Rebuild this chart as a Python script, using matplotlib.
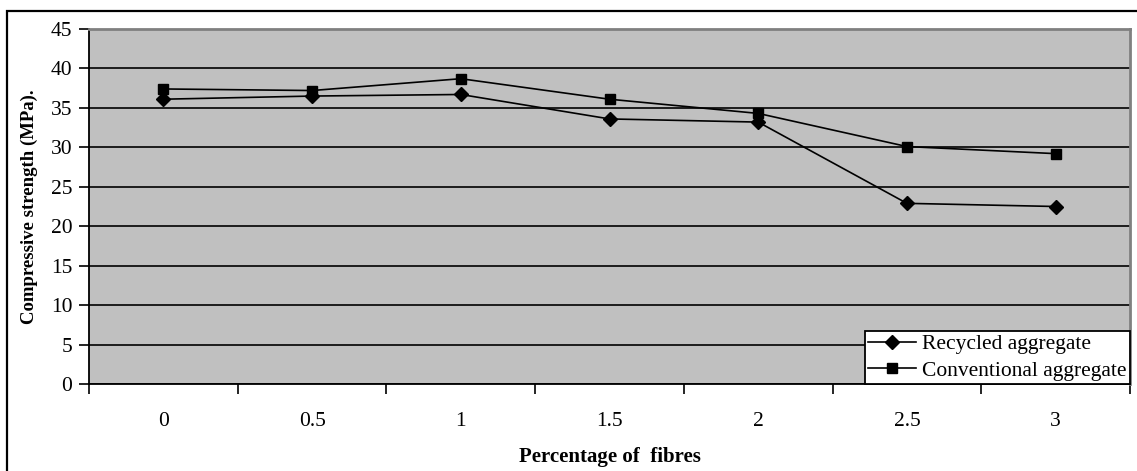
import matplotlib
matplotlib.use("Agg")
from matplotlib import pyplot as plt
from matplotlib.patches import Rectangle

fibres = ["0", "0.5", "1", "1.5", "2", "2.5", "3"]
recycled = [36.1, 36.5, 36.7, 33.6, 33.2, 22.9, 22.5]
conventional = [37.4, 37.2, 38.7, 36.1, 34.3, 30.1, 29.2]

plt.rcParams['font.family'] = ['Liberation Serif', 'DejaVu Serif']

W, H = 1137, 471
fig = plt.figure(figsize=(W / 100, H / 100), dpi=100)

# outer chart frame
fig.patches.append(Rectangle((7 / W, -0.05), 1.1, 1 - 11 / H + 0.05,
                             transform=fig.transFigure, fill=False,
                             edgecolor='black', linewidth=1.6, clip_on=False))

left, right, top, bottom = 89, 1130, 29, 384
ax = fig.add_axes([left / W, 1 - bottom / H, (right - left) / W, (bottom - top) / H])
ax.set_facecolor('#c0c0c0')

x = list(range(len(fibres)))
ax.plot(x, recycled, color='black', linewidth=1.2, marker='D', markersize=7,
        label='Recycled aggregate')
ax.plot(x, conventional, color='black', linewidth=1.2, marker='s', markersize=7.5,
        label='Conventional aggregate')

ax.set_xlim(-0.5, len(fibres) - 0.5)
ax.set_ylim(0, 45)
ax.set_yticks(range(0, 46, 5))
ax.yaxis.grid(True, color='black', linewidth=1.2)
ax.set_axisbelow(True)

ax.set_xticks([i - 0.5 for i in range(len(fibres) + 1)])
ax.set_xticklabels([])
ax.set_xticks(x, minor=True)
ax.set_xticklabels(fibres, minor=True)
ax.tick_params(axis='x', which='major', length=7, width=1.2, direction='out')
ax.tick_params(axis='x', which='minor', length=0, pad=20, labelsize=15.5)
ax.tick_params(axis='y', length=7, width=1.2, pad=5, labelsize=15.5)

ax.spines['left'].set_linewidth(1.3)
ax.spines['bottom'].set_linewidth(1.3)
ax.spines['top'].set_color('#808080')
ax.spines['right'].set_color('#808080')
ax.spines['top'].set_linewidth(2)
ax.spines['right'].set_linewidth(2)

ax.set_xlabel('Percentage of  fibres', fontsize=15, fontweight='bold', labelpad=12)
ax.set_ylabel('Compressive strength (MPa).', fontsize=13.5, fontweight='bold', labelpad=9)

leg = ax.legend(loc='lower right', bbox_to_anchor=(1.0, 0.0), fontsize=15.5,
                frameon=True, fancybox=False, edgecolor='black', framealpha=1,
                borderaxespad=0.0, handlelength=2.2, borderpad=0.15, labelspacing=0.3,
                handletextpad=0.3)
leg.get_frame().set_linewidth(1.3)

fig.savefig('out.png', dpi=100)
